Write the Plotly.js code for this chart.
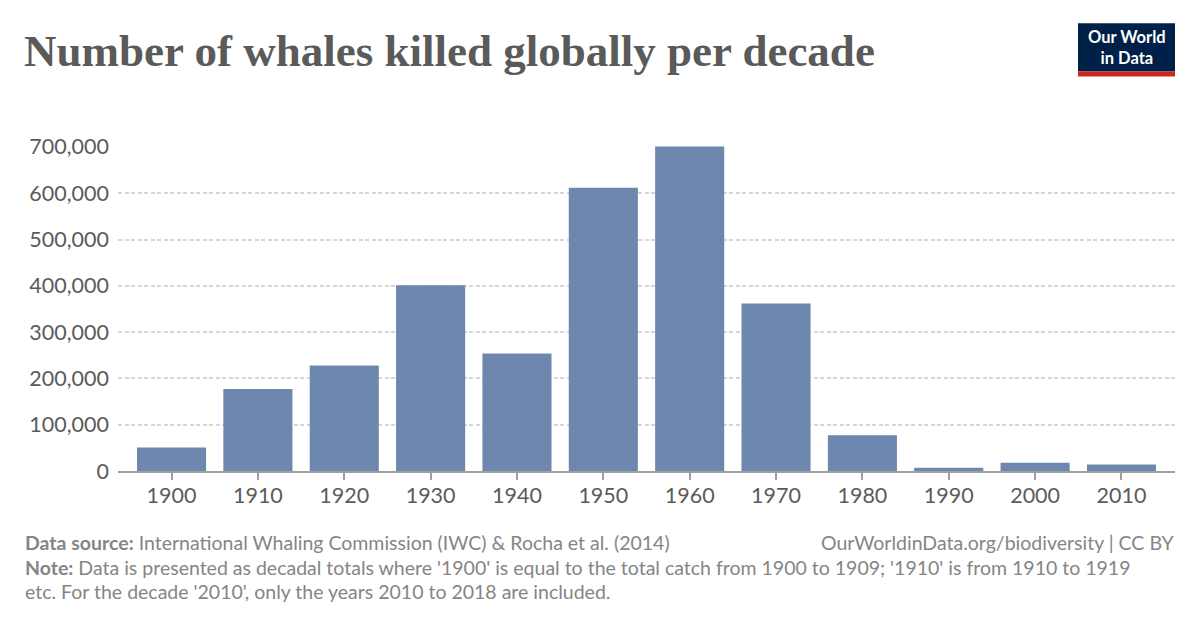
<!DOCTYPE html>
<html>
<head>
<meta charset="utf-8">
<script src="https://cdn.plot.ly/plotly-3.0.1.min.js"></script>
<style>
html,body{margin:0;padding:0;background:#fff;}
#chart{width:1200px;height:628px;}
</style>
</head>
<body>
<div id="chart"></div>
<script>
// Data
const decades = ["1900","1910","1920","1930","1940","1950","1960","1970","1980","1990","2000","2010"];
const whalesKilled = [51000, 177000, 228000, 401000, 254000, 612000, 701000, 362000, 77000, 7000, 18000, 14000];
const yTickValues = [0, 100000, 200000, 300000, 400000, 500000, 600000, 700000];

// Layout geometry (pixels)
const W = 1200, H = 628;
const L = 118, R = 25, T = 146.4, B = 628 - 470.7;
const plotW = W - L - R, plotH = H - T - B;
const px = x => (x - L) / plotW;
const py = y => (H - B - y) / plotH;

const grey = '#5b5b5b';
const footGrey = '#858585';

const trace = {
  type: 'bar',
  x: decades,
  y: whalesKilled,
  marker: {color: '#6d87ae', line: {width: 0}},
  hoverinfo: 'x+y'
};

const layout = {
  width: W, height: H,
  margin: {l: L, r: R, t: T, b: B, pad: 0},
  paper_bgcolor: '#fff',
  plot_bgcolor: '#fff',
  bargap: 0.2,
  showlegend: false,
  font: {family: 'Lato, sans-serif', color: grey},
  title: {
    text: 'Number of whales killed globally per decade',
    x: 24 / W, xanchor: 'left', xref: 'container',
    y: 1 - 50 / H, yanchor: 'middle', yref: 'container',
    font: {family: '"Liberation Serif", serif', size: 45, color: '#5a5a5a', weight: 700}
  },
  xaxis: {
    type: 'category',
    range: [-0.62, 11.62],
    showgrid: false,
    showline: true, linecolor: '#a0a0a0', linewidth: 2,
    ticks: 'outside', ticklen: 7, tickwidth: 2, tickcolor: '#a0a0a0',
    ticklabelstandoff: -3,
    tickfont: {family: 'Lato, sans-serif', size: 21.5, color: grey},
    zeroline: false,
    fixedrange: true
  },
  yaxis: {
    range: [0, 702000],
    tickvals: yTickValues,
    tickformat: ',',
    showgrid: true, gridcolor: '#d6d6d6', gridwidth: 2, griddash: '4px,2.5px',
    zeroline: false,
    showline: false,
    ticks: '',
    ticklabelstandoff: 8,
    tickfont: {family: 'Lato, sans-serif', size: 21.5, color: grey},
    fixedrange: true
  },
  shapes: [
    {type: 'rect', xref: 'paper', yref: 'paper', x0: px(1078), x1: px(1175), y0: py(72), y1: py(24),
     fillcolor: '#002147', line: {width: 0}, layer: 'above'},
    {type: 'rect', xref: 'paper', yref: 'paper', x0: px(1078), x1: px(1175), y0: py(77), y1: py(72),
     fillcolor: '#ce261e', line: {width: 0}, layer: 'above'}
  ],
  annotations: [
    {xref: 'paper', yref: 'paper', x: px(1126.5), y: py(48), xanchor: 'center', yanchor: 'middle',
     text: 'Our World<br>in Data', showarrow: false, align: 'center',
     font: {family: 'Lato, sans-serif', size: 16.5, color: '#ffffff', weight: 700}},
    {xref: 'paper', yref: 'paper', x: px(23), y: py(542), xanchor: 'left', yanchor: 'middle',
     text: '<b>Data source:</b> International Whaling Commission (IWC) & Rocha et al. (2014)',
     showarrow: false, align: 'left',
     font: {family: 'Lato, sans-serif', size: 19.5, color: footGrey}},
    {xref: 'paper', yref: 'paper', x: px(1177), y: py(542), xanchor: 'right', yanchor: 'middle',
     text: 'OurWorldinData.org/biodiversity | CC BY',
     showarrow: false, align: 'right',
     font: {family: 'Lato, sans-serif', size: 19.5, color: footGrey}},
    {xref: 'paper', yref: 'paper', x: px(23), y: py(567), xanchor: 'left', yanchor: 'middle',
     text: "<b>Note:</b> Data is presented as decadal totals where '1900' is equal to the total catch from 1900 to 1909; '1910' is from 1910 to 1919",
     showarrow: false, align: 'left',
     font: {family: 'Lato, sans-serif', size: 19.5, color: footGrey}},
    {xref: 'paper', yref: 'paper', x: px(23), y: py(591), xanchor: 'left', yanchor: 'middle',
     text: "etc. For the decade '2010', only the years 2010 to 2018 are included.",
     showarrow: false, align: 'left',
     font: {family: 'Lato, sans-serif', size: 19.5, color: footGrey}}
  ]
};

Plotly.newPlot('chart', [trace], layout, {displayModeBar: false, staticPlot: true});
</script>
</body>
</html>
